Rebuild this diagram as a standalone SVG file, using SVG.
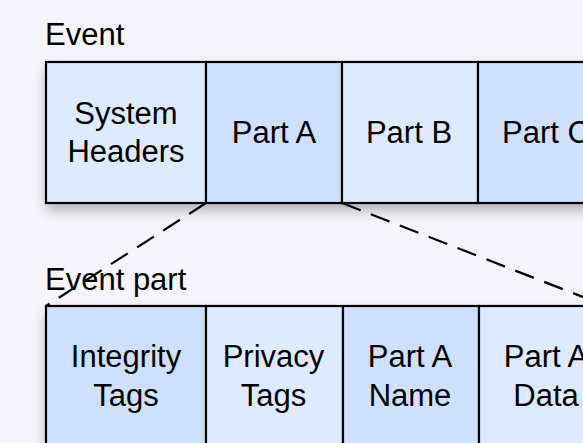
<svg xmlns="http://www.w3.org/2000/svg" width="583" height="443" viewBox="0 0 583 443">
<defs>
<filter id="sh" x="-10%" y="-20%" width="130%" height="160%">
<feGaussianBlur in="SourceAlpha" stdDeviation="7"/>
<feOffset dx="0" dy="7" result="b"/>
<feComponentTransfer><feFuncA type="linear" slope="0.3"/></feComponentTransfer>
<feMerge><feMergeNode/><feMergeNode in="SourceGraphic"/></feMerge>
</filter>
<style>
.t{font-family:"Liberation Sans",Arial,sans-serif;font-size:31px;fill:#000;}
.c{text-anchor:middle;}
.l{fill:#deeafe;stroke:#000;stroke-width:2.2;}
.d{fill:#cfe0fd;stroke:#000;stroke-width:2.2;}
.cn{fill:none;stroke:#000;stroke-width:2.2;stroke-dasharray:20 11;}
</style>
</defs>
<rect width="583" height="443" fill="#f7f5fc"/>
<text class="t" x="45" y="45">Event</text>
<text class="t" x="45" y="290">Event part</text>
<g filter="url(#sh)">
<rect x="46" y="62" width="568" height="141" fill="#deeafe"/>
<rect x="46" y="306" width="569" height="141" fill="#deeafe"/>
</g>
<g id="system-headers"><rect class="l" x="46" y="62" width="160" height="141"/><text class="t c" x="126" y="124">System</text><text class="t c" x="126" y="162">Headers</text></g>
<g id="part-a"><rect class="d" x="206" y="62" width="136" height="141"/><text class="t c" x="274" y="143">Part A</text></g>
<g id="part-b"><rect class="l" x="342" y="62" width="136" height="141"/><text class="t c" x="409" y="143">Part B</text></g>
<g id="part-c"><rect class="d" x="478" y="62" width="136" height="141"/><text class="t c" x="546" y="143">Part C</text></g>
<g id="integrity-tags"><rect class="d" x="46" y="306" width="160" height="141"/><text class="t c" x="126" y="367">Integrity</text><text class="t c" x="126" y="406">Tags</text></g>
<g id="privacy-tags"><rect class="l" x="206" y="306" width="137" height="141"/><text class="t c" x="273.5" y="367">Privacy</text><text class="t c" x="273.5" y="406">Tags</text></g>
<g id="part-a-name"><rect class="d" x="343" y="306" width="136" height="141"/><text class="t c" x="410" y="367">Part A</text><text class="t c" x="410" y="406">Name</text></g>
<g id="part-a-data"><rect class="l" x="479" y="306" width="136" height="141"/><text class="t c" x="546" y="367">Part A</text><text class="t c" x="546" y="406">Data</text></g>
<g id="connectors">
<line class="cn" x1="206" y1="203" x2="46" y2="306"/>
<line class="cn" x1="342" y1="203" x2="606" y2="306"/>
</g>
</svg>
